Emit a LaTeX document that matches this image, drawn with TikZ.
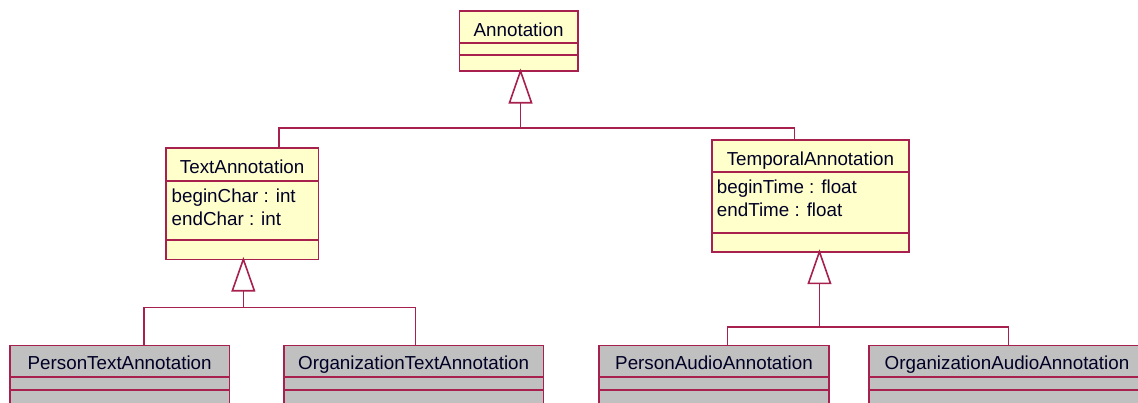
\documentclass[tikz,border=0pt]{standalone}
\usepackage{fontspec}
\setmainfont{Liberation Sans}
\usetikzlibrary{calc}
\definecolor{umlline}{RGB}{168,32,78}
\definecolor{umlyellow}{RGB}{255,255,204}
\definecolor{umlgray}{RGB}{192,192,192}
\begin{document}
\begin{tikzpicture}[x=1pt,y=-1pt,
  classbox/.style={draw=umlline, line width=1.6pt, fill=umlyellow, rectangle, inner sep=0pt, outer sep=0pt, anchor=north west},
  leafbox/.style={classbox, fill=umlgray},
  divider/.style={draw=umlline, line width=1.6pt},
  conn/.style={draw=umlline, line width=1.6pt},
  gentri/.style={draw=umlline, line width=1.6pt, fill=white, line join=miter},
  lbl/.style={inner sep=0pt, anchor=base, text=black!85!blue, font=\fontsize{18.8}{22}\selectfont},
  attr/.style={lbl, anchor=base west}]
\useasboundingbox (0,0) rectangle (1138,402);
\fill[white] (0,0) rectangle (1138,402);
\clip (0,0) rectangle (1138,402);

% ---- class boxes ----
\node[classbox, minimum width=118.2pt, minimum height=60pt] (ann) at (459.5,11) {};
\node[classbox, minimum width=152.3pt, minimum height=111.6pt] (txt) at (166,147.7) {};
\node[classbox, minimum width=197.3pt, minimum height=111.7pt] (tmp) at (711.7,140) {};
\node[leafbox, minimum width=219.3pt, minimum height=70pt] (ptx) at (10,345.5) {};
\node[leafbox, minimum width=259.3pt, minimum height=70pt] (otx) at (284,345.5) {};
\node[leafbox, minimum width=230pt, minimum height=70pt] (pau) at (599,345.5) {};
\node[leafbox, minimum width=276pt, minimum height=70pt] (oau) at (869,345.5) {};

% ---- compartment dividers ----
\draw[divider] ($(ann.north west)+(0,31.7)$) -- ($(ann.north east)+(0,31.7)$);
\draw[divider] ($(ann.north west)+(0,44)$) -- ($(ann.north east)+(0,44)$);
\draw[divider] ($(txt.north west)+(0,33)$) -- ($(txt.north east)+(0,33)$);
\draw[divider] ($(txt.north west)+(0,92.3)$) -- ($(txt.north east)+(0,92.3)$);
\draw[divider] ($(tmp.north west)+(0,31.7)$) -- ($(tmp.north east)+(0,31.7)$);
\draw[divider] ($(tmp.north west)+(0,92.7)$) -- ($(tmp.north east)+(0,92.7)$);
\foreach \b in {ptx,otx,pau,oau}{
  \draw[divider] ($(\b.north west)+(0,31.2)$) -- ($(\b.north east)+(0,31.2)$);
  \draw[divider] ($(\b.north west)+(0,44.5)$) -- ($(\b.north east)+(0,44.5)$);
}

% ---- texts ----
\node[lbl] (annN) at ($(ann.north)+(0,25)$) {Annotation};
\node[lbl] (txtN) at ($(txt.north)+(0,25.6)$) {TextAnnotation};
\node[attr] (txtA1) at ($(txt.north west)+(5.5,55)$) {beginChar : int};
\node[attr] (txtA2) at ($(txt.north west)+(5.5,77.3)$) {endChar : int};
\node[lbl] (tmpN) at ($(tmp.north)+(0,25)$) {TemporalAnnotation};
\node[attr] (tmpA1) at ($(tmp.north west)+(5,53.5)$) {beginTime : float};
\node[attr] (tmpA2) at ($(tmp.north west)+(5,76)$) {endTime : float};
\node[lbl] (ptxN) at ($(ptx.north)+(0,23.5)$) {PersonTextAnnotation};
\node[lbl] (otxN) at ($(otx.north)+(0,23.5)$) {OrganizationTextAnnotation};
\node[lbl] (pauN) at ($(pau.north)+(0,23.5)$) {PersonAudioAnnotation};
\node[lbl] (oauN) at ($(oau.north)+(0,23.5)$) {OrganizationAudioAnnotation};

% ---- connector points ----
\coordinate (annApex) at ($(ann.south)+(1.9,0)$);
\coordinate (annJ) at ($(annApex)+(0,57)$);
\coordinate (txtTop) at ($(txt.north west)+(113,0)$);
\coordinate (tmpTop) at ($(tmp.north west)+(82.6,0)$);

\coordinate (txtApex) at ($(txt.south)+(1.2,0)$);
\coordinate (txtJ) at ($(txtApex)+(0,48)$);
\coordinate (ptxTop) at ($(ptx.north west)+(134,0)$);
\coordinate (otxTop) at ($(otx.north west)+(131.3,0)$);

\coordinate (tmpApex) at ($(tmp.south)+(9.1,0)$);
\coordinate (tmpJ) at ($(tmpApex)+(0,75)$);
\coordinate (pauTop) at ($(pau.north west)+(128.3,0)$);
\coordinate (oauTop) at ($(oau.north west)+(139.3,0)$);

% ---- generalization connectors ----
\draw[conn] ($(annApex)+(0,31.7)$) -- (annJ);
\draw[conn] (txtTop) |- (annJ) -| (tmpTop);
\draw[gentri] (annApex) -- ++(11,31.7) -- ++(-22,0) -- cycle;

\draw[conn] ($(txtApex)+(0,31.4)$) -- (txtJ);
\draw[conn] (ptxTop) |- (txtJ) -| (otxTop);
\draw[gentri] (txtApex) -- ++(11,31.4) -- ++(-22,0) -- cycle;

\draw[conn] ($(tmpApex)+(0,31.6)$) -- (tmpJ);
\draw[conn] (pauTop) |- (tmpJ) -| (oauTop);
\draw[gentri] (tmpApex) -- ++(11,31.6) -- ++(-22,0) -- cycle;
\end{tikzpicture}
\end{document}
